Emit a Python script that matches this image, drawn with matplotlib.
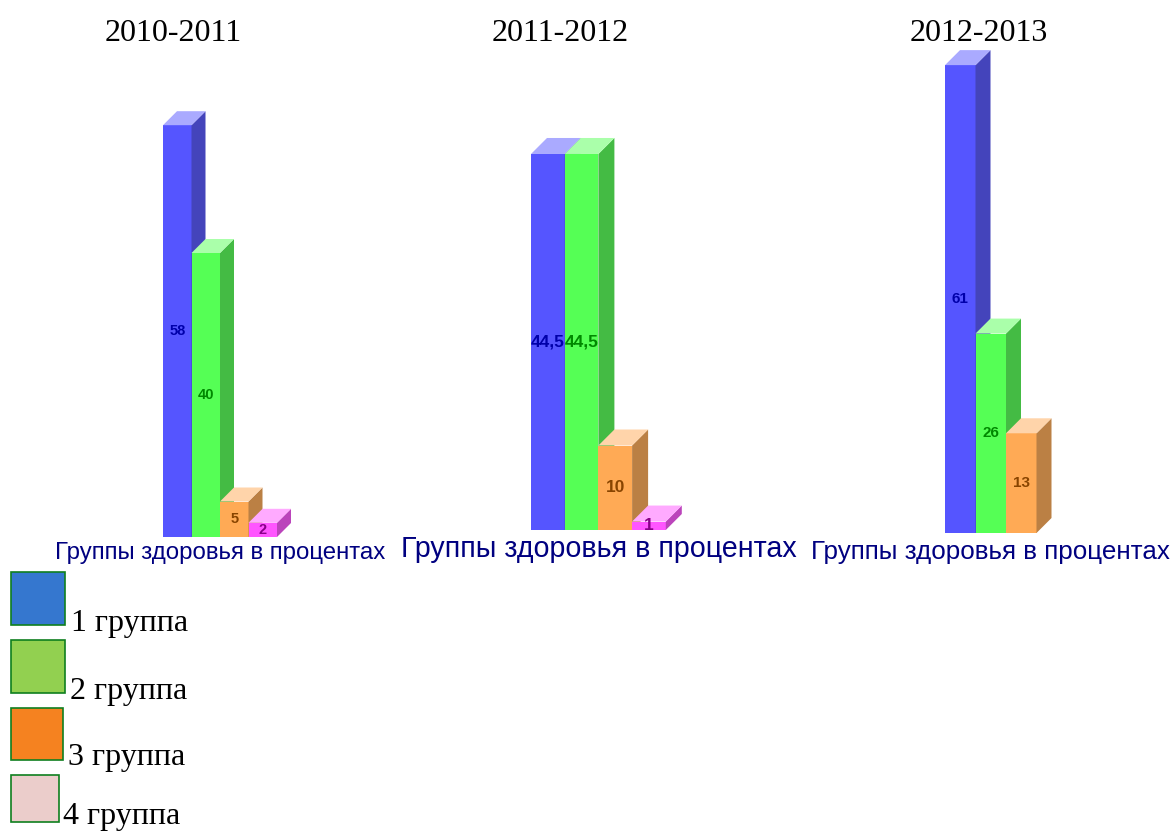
import matplotlib
matplotlib.use("Agg")
import matplotlib.pyplot as plt
from matplotlib.patches import Polygon, Rectangle

W, H = 1174, 832

years = ["2010-2011", "2011-2012", "2012-2013"]
values_2010 = [58, 40, 5, 2]
values_2011 = [44.5, 44.5, 10, 1]
values_2012 = [61, 26, 13]
axis_label = "Группы здоровья в процентах"
legend_labels = ["1 группа", "2 группа", "3 группа", "4 группа"]

front = ["#5555ff", "#55ff55", "#ffaa55", "#ff55ff"]
side = ["#4444bb", "#44bb44", "#bb8044", "#bb44bb"]
top = ["#aaaaff", "#aaffaa", "#ffd4aa", "#ffaaff"]
label_col = ["#0000aa", "#008800", "#884400", "#880088"]
legend_col = ["#3577cf", "#92d050", "#f58220", "#ebcdcb"]

sans = "Liberation Sans"
serif = "Liberation Serif"

fig = plt.figure(figsize=(W / 100, H / 100), dpi=100)


def panel(values, x0, base, bar_w, scale, depth, fs):
    # pixel layout -> axes, then the bars go through the axes scale
    n = len(values)
    ymax = max(values)
    ax = fig.add_axes([x0 / W, 1 - base / H, n * bar_w / W, scale * ymax / H])
    ax.set_xlim(0, n)
    ax.set_ylim(0, ymax)
    ax.axis("off")
    dx = depth / bar_w
    dy = depth / scale
    for i, v in enumerate(values):
        ax.bar(i, v, width=1, align="edge", color=front[i], linewidth=0, zorder=3 + i * 2)
        ax.add_patch(Polygon([(i + 1, 0), (i + 1 + dx, dy), (i + 1 + dx, v + dy), (i + 1, v)],
                             fc=side[i], lw=0, clip_on=False, zorder=3 + i * 2))
        ax.add_patch(Polygon([(i, v), (i + dx, v + dy), (i + 1 + dx, v + dy), (i + 1, v)],
                             fc=top[i], lw=0, clip_on=False, zorder=3 + i * 2))
        ax.text(i + 0.5, v / 2, str(v).replace(".", ","), ha="center", va="center", family=sans,
                weight="bold", fontsize=fs, color=label_col[i], zorder=20, clip_on=False)


panel(values_2010, 163, 537, 28.5, 7.1, 14, 10.5)
panel(values_2011, 531, 530, 33.7, 8.45, 16, 12.5)
panel(values_2012, 945, 533, 30.5, 7.67, 15, 11)

# overlay in pixel coords for the titles and the hand-made legend
ov = fig.add_axes([0, 0, 1, 1], zorder=50)
ov.set_xlim(0, W)
ov.set_ylim(H, 0)
ov.axis("off")
ov.patch.set_alpha(0)

for t, x in zip(years, [173, 560.5, 979]):
    ov.text(x, 41, t, ha="center", va="baseline", family=serif, fontsize=23, color="black")

for x, y, fs in [(220, 559, 17.3), (598.5, 557, 20.6), (990.5, 559, 18.7)]:
    ov.text(x, y, axis_label, ha="center", va="baseline", family=sans, fontsize=fs, color="#000080")

boxes = [(11, 572, 54, 53), (11, 640, 54, 53), (11, 708, 52, 52), (11, 775, 48, 47)]
text_pos = [(71, 631), (70, 699), (68, 765), (63, 824)]
for (x, y, w, h), (tx, ty), c, lab in zip(boxes, text_pos, legend_col, legend_labels):
    ov.add_patch(Rectangle((x, y), w, h, fc=c, ec="#0f7f1f", lw=1.2))
    ov.text(tx, ty, lab, ha="left", va="baseline", family=serif, fontsize=23, color="black")

fig.savefig("out.png", dpi=100)
